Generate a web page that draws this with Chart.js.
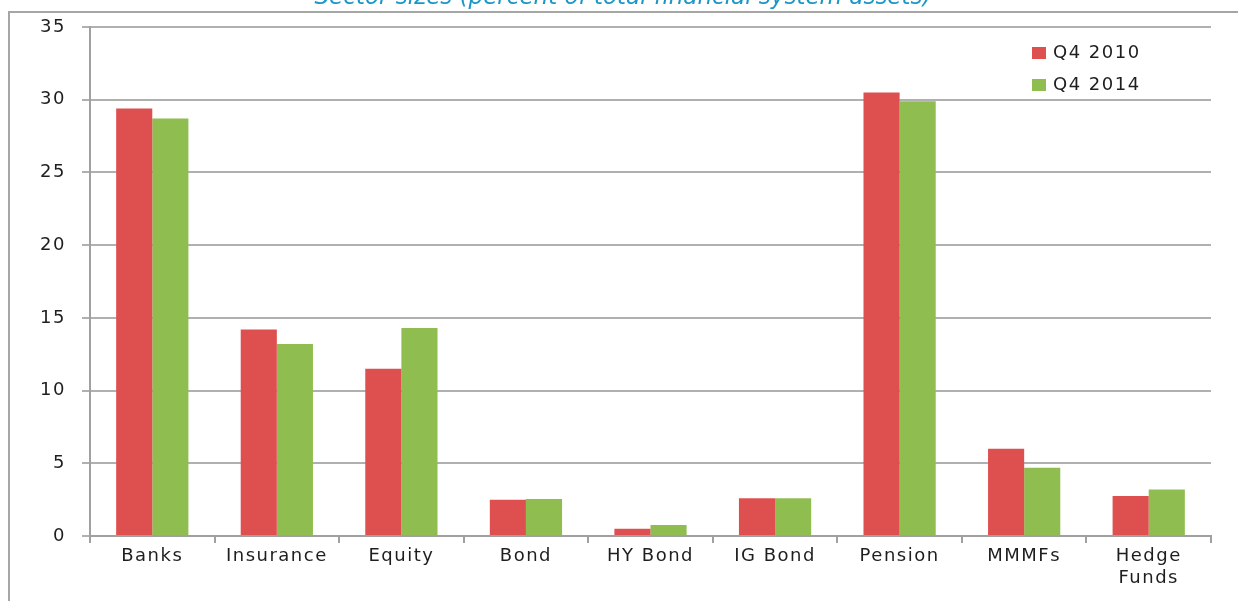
<!DOCTYPE html>
<html>
<head>
<meta charset="utf-8">
<script src="https://cdn.jsdelivr.net/npm/chart.js@4.4.1/dist/chart.umd.min.js"></script>
<style>
  html, body { margin: 0; padding: 0; background: #fff; overflow: hidden; }
  #wrap { width: 1238px; height: 601px; position: relative; }
</style>
</head>
<body>
<div id="wrap"><canvas id="sectorChart"></canvas></div>
<script>
const categories = ['Banks', 'Insurance', 'Equity', 'Bond', 'HY Bond', 'IG Bond', 'Pension', 'MMMFs', ['Hedge', 'Funds']];
const q4_2010 = [29.4, 14.2, 11.5, 2.5, 0.5, 2.6, 30.5, 6.0, 2.75];
const q4_2014 = [28.7, 13.2, 14.3, 2.55, 0.75, 2.6, 29.9, 4.7, 3.2];
const seriesNames = ['Q4 2010', 'Q4 2014'];
const titleText = 'Sector sizes (percent of total financial system assets)';

const labelFont = { family: 'DejaVu Sans', size: 18 };

// frame around the chart, clipped title and the legend inside the plot
const decorations = {
    id: 'decorations',
    beforeDraw(chart) {
        const ctx = chart.ctx;
        // the original text is set wide, so space the letters a little
        ctx.letterSpacing = '1.5px';
        ctx.save();
        ctx.strokeStyle = '#a6a6a6';
        ctx.lineWidth = 2;
        ctx.beginPath();
        ctx.moveTo(9, chart.height);
        ctx.lineTo(9, 12);
        ctx.lineTo(chart.width, 12);
        ctx.stroke();
        ctx.restore();
    },
    afterDraw(chart) {
        const ctx = chart.ctx;
        ctx.save();
        ctx.letterSpacing = '0px';
        ctx.fillStyle = '#1b96c6';
        ctx.font = 'italic 23px "DejaVu Sans"';
        ctx.textAlign = 'center';
        ctx.textBaseline = 'alphabetic';
        ctx.fillText(titleText, 623, 4);

        ctx.letterSpacing = '1.5px';
        ctx.font = '18px "DejaVu Sans"';
        ctx.textAlign = 'left';
        ctx.textBaseline = 'middle';
        chart.data.datasets.forEach(function (ds, i) {
            const y = 53 + i * 32;
            ctx.fillStyle = ds.backgroundColor;
            ctx.fillRect(1032, y - 6, 14, 12);
            ctx.fillStyle = '#1e1e1e';
            ctx.fillText(ds.label, 1053, y);
        });
        ctx.restore();
    }
};

const chart = new Chart(document.getElementById('sectorChart'), {
    type: 'bar',
    data: {
        labels: categories,
        datasets: [
            {
                label: seriesNames[0],
                data: q4_2010,
                backgroundColor: '#de5050',
                categoryPercentage: 0.58,
                barPercentage: 1
            },
            {
                label: seriesNames[1],
                data: q4_2014,
                backgroundColor: '#8fbd50',
                categoryPercentage: 0.58,
                barPercentage: 1
            }
        ]
    },
    options: {
        responsive: true,
        maintainAspectRatio: false,
        animation: false,
        layout: { padding: { top: 27, right: 27, left: 0, bottom: 0 } },
        plugins: {
            legend: { display: false },
            title: { display: false },
            tooltip: { enabled: false }
        },
        scales: {
            x: {
                grid: {
                    offset: true,
                    drawOnChartArea: false,
                    tickLength: 7,
                    color: '#a0a0a0',
                    lineWidth: 2
                },
                border: { color: '#a0a0a0', width: 2 },
                ticks: {
                    font: labelFont,
                    color: '#1e1e1e',
                    padding: 3,
                    maxRotation: 0,
                    autoSkip: false
                },
                afterFit(scale) { scale.height = 65; }
            },
            y: {
                min: 0,
                max: 35,
                ticks: {
                    stepSize: 5,
                    font: labelFont,
                    color: '#1e1e1e',
                    padding: 16
                },
                grid: {
                    color: '#b0b0b0',
                    lineWidth: 2,
                    tickLength: 8
                },
                border: { color: '#a0a0a0', width: 2 },
                afterFit(scale) { scale.width = 90; }
            }
        }
    },
    plugins: [decorations]
});
</script>
</body>
</html>
